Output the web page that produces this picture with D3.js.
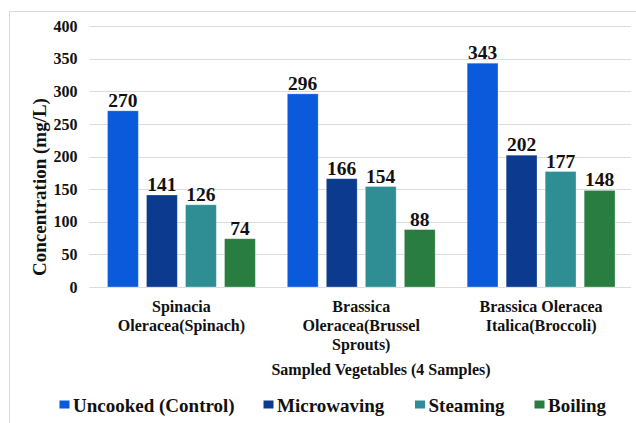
<!DOCTYPE html>
<html>
<head>
<meta charset="utf-8">
<script src="https://cdn.jsdelivr.net/npm/d3@7/dist/d3.min.js"></script>
<style>
  html, body { margin: 0; padding: 0; background: #fff; }
  svg { display: block; }
</style>
</head>
<body>
<svg id="chart" width="636" height="423"></svg>
<script>
// Vegetables sampled (category labels, split into lines)
const categories = ["Spinacia Oleracea(Spinach)", "Brassica Oleracea(Brussel Sprouts)", "Brassica Oleracea Italica(Broccoli)"];
const categoryLines = [
  ["Spinacia", "Oleracea(Spinach)"],
  ["Brassica", "Oleracea(Brussel", "Sprouts)"],
  ["Brassica Oleracea", "Italica(Broccoli)"]
];
const seriesNames = ["Uncooked (Control)", "Microwaving", "Steaming", "Boiling"];
const uncooked = [270, 296, 343];
const microwaving = [141, 166, 202];
const steaming = [126, 154, 177];
const boiling = [74, 88, 148];
const yTicks = [0, 50, 100, 150, 200, 250, 300, 350, 400];
const colors = ["#0B5ADB", "#0B3A8F", "#2E8E94", "#2A7D40"];

const FONT = "'Liberation Serif', 'Times New Roman', serif";
const INK = "#111111";

const seriesValues = [uncooked, microwaving, steaming, boiling];
const rows = categories.map((c, i) => ({
  category: c,
  values: seriesNames.map((s, j) => ({ series: s, value: seriesValues[j][i] }))
}));

const svg = d3.select("#chart");

function styleText(sel, size) {
  return sel.style("font-family", FONT).style("font-weight", "bold")
    .style("font-size", size + "px").style("fill", INK);
}

// Outer frame
svg.append("path")
  .attr("d", "M9.5,423 V11.5 H636")
  .attr("fill", "none").attr("stroke", "#d9d9d9").attr("stroke-width", 1);

const plot = { left: 91.5, right: 631, top: 26, bottom: 287 };

const x0 = d3.scaleBand().domain(categories).range([plot.left, plot.right]).paddingInner(0).paddingOuter(0);
const x1 = d3.scaleBand().domain(seriesNames).range([16, x0.bandwidth() - 16]).paddingInner(0.21).paddingOuter(0);
const y = d3.scaleLinear().domain([0, 400]).range([plot.bottom, plot.top]);
const color = d3.scaleOrdinal().domain(seriesNames).range(colors);

// Gridlines
svg.append("g").selectAll("line").data(yTicks).join("line")
  .attr("x1", plot.left - 2).attr("x2", plot.right)
  .attr("y1", d => Math.round(y(d)) + 0.5).attr("y2", d => Math.round(y(d)) + 0.5)
  .attr("stroke", "#dcdcdc").attr("stroke-width", 1);

// Y axis tick labels
const yAxis = svg.append("g")
  .attr("transform", `translate(${plot.left},0)`)
  .call(d3.axisLeft(y).tickValues(yTicks).tickSize(0).tickPadding(14));
yAxis.select(".domain").remove();
styleText(yAxis.selectAll("text"), 16);

// Bars
const groups = svg.append("g").selectAll("g").data(rows).join("g")
  .attr("transform", d => `translate(${x0(d.category)},0)`);

groups.selectAll("rect").data(d => d.values).join("rect")
  .attr("x", d => x1(d.series))
  .attr("y", d => y(d.value))
  .attr("width", x1.bandwidth())
  .attr("height", d => y(0) - y(d.value))
  .attr("fill", d => color(d.series))
  .attr("stroke", "#ffffff").attr("stroke-opacity", 0.35).attr("stroke-width", 0.8);

// Value labels
styleText(groups.selectAll("text.val").data(d => d.values).join("text")
  .attr("class", "val")
  .attr("x", d => x1(d.series) + x1.bandwidth() / 2)
  .attr("y", d => y(d.value) - 4)
  .attr("text-anchor", "middle")
  .text(d => d.value), 19.5);

// Category labels
const catLabels = styleText(svg.append("g").selectAll("text").data(categories).join("text")
  .attr("x", d => x0(d) + x0.bandwidth() / 2)
  .attr("y", 312)
  .attr("text-anchor", "middle"), 16);
catLabels.each(function (d, i) {
  const t = d3.select(this);
  categoryLines[i].forEach((line, k) => {
    t.append("tspan").attr("x", x0(d) + x0.bandwidth() / 2).attr("dy", k === 0 ? 0 : 19).text(line);
  });
});

// Axis titles
styleText(svg.append("text")
  .attr("transform", "translate(45.5,187) rotate(-90)")
  .attr("text-anchor", "middle")
  .text("Concentration (mg/L)"), 19);

styleText(svg.append("text")
  .attr("x", 381).attr("y", 375)
  .attr("text-anchor", "middle")
  .text("Sampled Vegetables (4 Samples)"), 16);

// Legend
const legendX = [59.5, 263.5, 415, 534.5];
const legend = svg.append("g").selectAll("g").data(seriesNames).join("g")
  .attr("transform", (d, i) => `translate(${legendX[i]},412)`);
legend.append("rect")
  .attr("x", 0).attr("y", -11.5).attr("width", 10).attr("height", 8)
  .attr("fill", d => color(d));
styleText(legend.append("text")
  .attr("x", 13.5).attr("y", 0)
  .text(d => d), 19);
</script>
</body>
</html>
